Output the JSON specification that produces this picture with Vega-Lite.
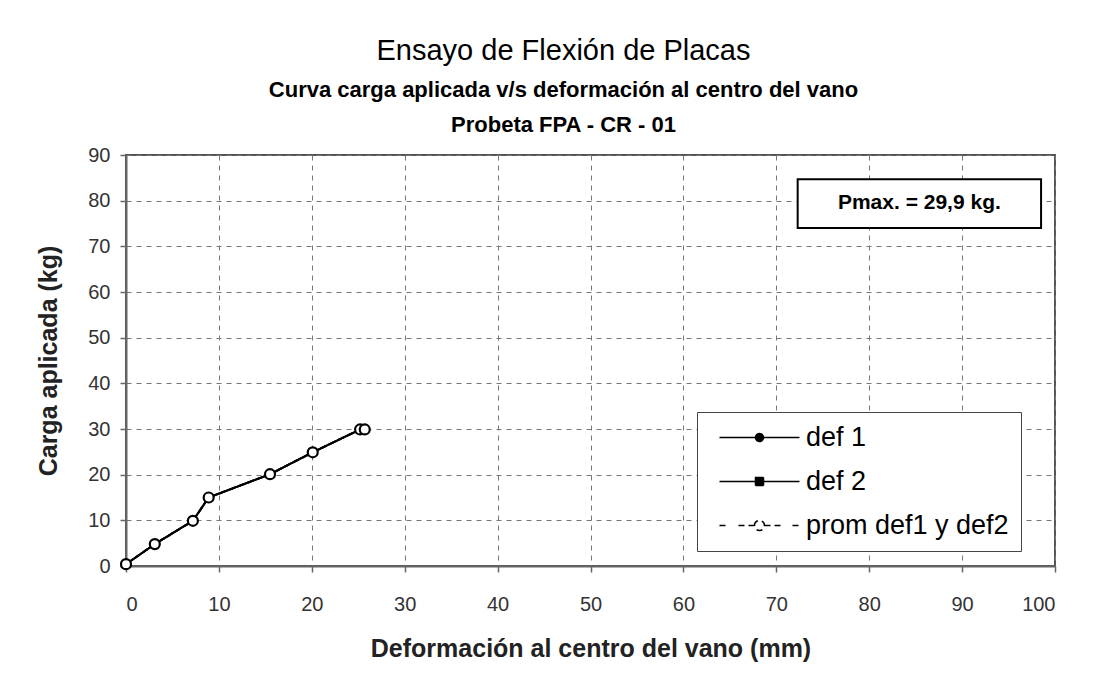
{
  "$schema": "https://vega.github.io/schema/vega-lite/v6.json",
  "autosize": "none",
  "width": 929,
  "height": 411,
  "padding": {"left": 126, "top": 155, "right": 54, "bottom": 108},
  "background": "white",
  "title": {
    "text": "Ensayo de Flexión de Placas",
    "subtitle": ["Curva carga aplicada v/s deformación al centro del vano", "Probeta FPA - CR - 01"],
    "font": "Liberation Sans",
    "fontSize": 29,
    "fontWeight": "normal",
    "color": "black",
    "subtitleFont": "Liberation Sans",
    "subtitleFontSize": 22,
    "subtitleFontWeight": "bold",
    "subtitleColor": "black",
    "subtitleLineHeight": 35,
    "subtitlePadding": 14,
    "anchor": "middle",
    "frame": "group",
    "dx": -27,
    "offset": 9
  },
  "config": {
    "font": "Liberation Sans",
    "view": {"stroke": "#555", "strokeWidth": 2},
    "axis": {
      "domainColor": "#666",
      "domainWidth": 2,
      "tickColor": "#666",
      "tickSize": 6,
      "tickWidth": 1.5,
      "labelFont": "Liberation Sans",
      "labelFontSize": 20,
      "labelColor": "#333",
      "titleFont": "Liberation Sans",
      "titleFontSize": 25,
      "titleFontWeight": "bold",
      "titleColor": "#222",
      "gridColor": "#777",
      "gridDash": [5, 5],
      "gridWidth": 1
    }
  },
  "datasets": {
    "curve": [
      {"series": "def 1", "x": 0, "y": 0.4},
      {"series": "def 1", "x": 3.1, "y": 4.8},
      {"series": "def 1", "x": 7.2, "y": 9.9},
      {"series": "def 1", "x": 8.9, "y": 15.0},
      {"series": "def 1", "x": 15.5, "y": 20.1},
      {"series": "def 1", "x": 20.1, "y": 24.9},
      {"series": "def 1", "x": 25.2, "y": 29.9},
      {"series": "def 1", "x": 25.7, "y": 29.9},
      {"series": "def 2", "x": 0, "y": 0.4},
      {"series": "def 2", "x": 3.1, "y": 4.8},
      {"series": "def 2", "x": 7.2, "y": 9.9},
      {"series": "def 2", "x": 8.9, "y": 15.0},
      {"series": "def 2", "x": 15.5, "y": 20.1},
      {"series": "def 2", "x": 20.1, "y": 24.9},
      {"series": "def 2", "x": 25.2, "y": 29.9},
      {"series": "def 2", "x": 25.7, "y": 29.9},
      {"series": "prom def1 y def2", "x": 0, "y": 0.4},
      {"series": "prom def1 y def2", "x": 3.1, "y": 4.8},
      {"series": "prom def1 y def2", "x": 7.2, "y": 9.9},
      {"series": "prom def1 y def2", "x": 8.9, "y": 15.0},
      {"series": "prom def1 y def2", "x": 15.5, "y": 20.1},
      {"series": "prom def1 y def2", "x": 20.1, "y": 24.9},
      {"series": "prom def1 y def2", "x": 25.2, "y": 29.9},
      {"series": "prom def1 y def2", "x": 25.7, "y": 29.9}
    ],
    "note": [
      {"x": 72.3, "x2": 98.5, "y": 84.7, "y2": 74.0, "tx": 85.4, "ty": 79.4, "label": "Pmax. = 29,9 kg."}
    ]
  },
  "encoding": {
    "x": {
      "field": "x",
      "type": "quantitative",
      "scale": {"domain": [0, 100], "nice": false, "zero": false},
      "axis": {"values": [0, 10, 20, 30, 40, 50, 60, 70, 80, 90, 100], "labelPadding": 22, "titlePadding": 22, "title": "Deformación al centro del vano (mm)"}
    },
    "y": {
      "field": "y",
      "type": "quantitative",
      "scale": {"domain": [0, 90], "nice": false, "zero": false},
      "axis": {"values": [0, 10, 20, 30, 40, 50, 60, 70, 80, 90], "labelPadding": 10, "titlePadding": 26, "title": "Carga aplicada (kg)"}
    }
  },
  "layer": [
    {
      "data": {"name": "note"},
      "mark": {"type": "rect", "fill": "white", "stroke": "black", "strokeWidth": 2},
      "encoding": {
        "x2": {"field": "x2"},
        "y2": {"field": "y2"}
      }
    },
    {
      "data": {"name": "note"},
      "mark": {"type": "text", "fontWeight": "bold", "fontSize": 21, "color": "black", "font": "Liberation Sans"},
      "encoding": {
        "x": {"field": "tx", "type": "quantitative", "title": "Deformación al centro del vano (mm)"},
        "y": {"field": "ty", "type": "quantitative", "title": "Carga aplicada (kg)"},
        "text": {"field": "label"}
      }
    },
    {
      "data": {"name": "curve"},
      "mark": {"type": "line", "strokeWidth": 2},
      "encoding": {
        "color": {
          "field": "series",
          "type": "nominal",
          "scale": {"domain": ["def 1", "def 2", "prom def1 y def2"], "range": ["black", "black", "black"]},
          "legend": {
            "orient": "none",
            "legendX": 571,
            "legendY": 257,
            "title": null,
            "labelFont": "Liberation Sans",
            "labelFontSize": 27,
            "labelColor": "black",
            "labelLimit": 400,
            "labelOffset": 70,
            "strokeColor": "#444",
            "fillColor": "white",
            "padding": 12,
            "rowPadding": 16,
            "symbolSize": 400,
            "symbolStrokeWidth": 1.5,
            "symbolDash": [1, 0],
            "encode": {
              "symbols": {
                "update": {
                  "shape": {"signal": "datum.value === 'def 1' ? 'M-0.3,0H7.7M3.3,0C3.3,-0.221,3.479,-0.4,3.7,-0.4C3.921,-0.4,4.1,-0.221,4.1,0C4.1,0.221,3.921,0.4,3.7,0.4C3.479,0.4,3.3,0.221,3.3,0Z' : datum.value === 'def 2' ? 'M-0.3,0H7.7M3.3,-0.4H4.1V0.4H3.3Z' : 'M-0.3,0H0.4M1.6,0H3.2M4.2,0H5.8M7.0,0H7.7M3.2,0C3.2,-0.276,3.424,-0.5,3.7,-0.5C3.976,-0.5,4.2,-0.276,4.2,0C4.2,0.276,3.976,0.5,3.7,0.5C3.424,0.5,3.2,0.276,3.2,0Z'"},
                  "fill": {"signal": "datum.value === 'prom def1 y def2' ? 'white' : 'black'"},
                  "stroke": {"value": "black"},
                  "strokeWidth": {"value": 1.5},
                  "strokeDash": {"value": [1, 0]},
                  "opacity": {"value": 1}
                }
              }
            }
          }
        },
        "strokeDash": {
          "field": "series",
          "type": "nominal",
          "scale": {"domain": ["def 1", "def 2", "prom def1 y def2"], "range": [[1, 0], [1, 0], [6, 4]]},
          "legend": null
        }
      }
    },
    {
      "data": {"name": "curve"},
      "transform": [{"filter": "datum.series === 'def 1'"}],
      "mark": {"type": "point", "shape": "circle", "filled": true, "color": "black", "size": 30, "opacity": 1}
    },
    {
      "data": {"name": "curve"},
      "transform": [{"filter": "datum.series === 'def 2'"}],
      "mark": {"type": "point", "shape": "square", "filled": true, "color": "black", "size": 30, "opacity": 1}
    },
    {
      "data": {"name": "curve"},
      "transform": [{"filter": "datum.series === 'prom def1 y def2'"}],
      "mark": {"type": "point", "shape": "circle", "filled": false, "fill": "white", "fillOpacity": 1, "stroke": "black", "strokeWidth": 2.2, "size": 100, "opacity": 1}
    }
  ]
}
